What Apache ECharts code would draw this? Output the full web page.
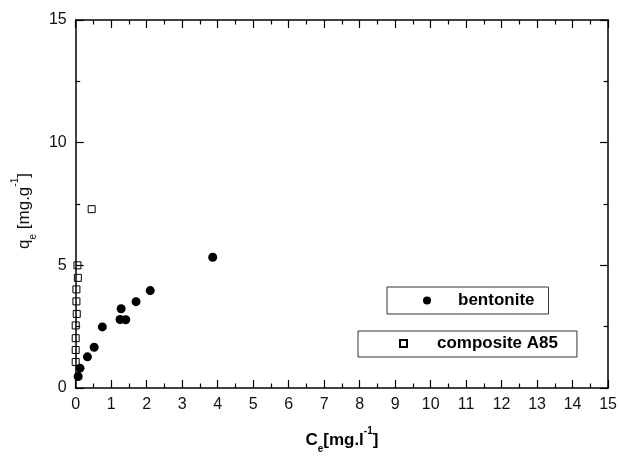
<!DOCTYPE html>
<html>
<head>
<meta charset="utf-8">
<script src="https://cdn.jsdelivr.net/npm/echarts@6/dist/echarts.min.js"></script>
<style>html,body{margin:0;padding:0;background:#fff}#c{width:620px;height:459px}</style>
</head>
<body>
<div id="c"></div>
<script>
// Data
var xTicks = [0,1,2,3,4,5,6,7,8,9,10,11,12,13,14,15];
var yTicks = [0,5,10,15];
var bentoniteCe = [0.07, 0.12, 0.33, 0.52, 0.75, 1.28, 1.25, 1.41, 1.70, 2.10, 3.86];
var bentoniteQe = [0.47, 0.81, 1.27, 1.66, 2.49, 3.23, 2.79, 2.78, 3.52, 3.97, 5.33];
var compositeCe = [0.00, 0.00, 0.00, 0.00, 0.03, 0.02, 0.02, 0.06, 0.05, 0.45];
var compositeQe = [1.06, 1.55, 2.03, 2.55, 3.02, 3.53, 4.02, 4.49, 5.00, 7.29];

function pairs(xs, ys){ return xs.map(function(x,i){ return [x, ys[i]]; }); }

var chart = echarts.init(document.getElementById('c'), null, {renderer:'canvas'});
var FONT = 'Liberation Sans, Arial, sans-serif';
var lineStyle = {color:'#000', width:1.5};
var tickCommon = {show:true, inside:true, length:8, lineStyle:{color:'#000', width:1.2}};
var minorCommon = {show:true, splitNumber:2, length:4.5, lineStyle:{color:'#000', width:1.2}};
var labelFont = {fontFamily:FONT, fontSize:16, color:'#111'};

chart.setOption({
  animation:false,
  backgroundColor:'#fff',
  grid:{left:75.7, right:11.7, top:20, bottom:68, containLabel:false},
  xAxis:[{
    type:'value', min:xTicks[0], max:xTicks[xTicks.length-1], interval:1,
    axisLine:{show:true, onZero:false, lineStyle:lineStyle},
    axisTick:tickCommon, minorTick:minorCommon,
    splitLine:{show:false},
    axisLabel:Object.assign({margin:9}, labelFont),
    name:'{b|C}{sub|e}{b|[mg.l}{sup|-1}{b|]}',
    nameLocation:'middle', nameGap:38,
    nameTextStyle:{
      rich:{
        b:{fontFamily:FONT, fontSize:17, fontWeight:'bold', color:'#000', lineHeight:28},
        sub:{fontFamily:FONT, fontSize:10, fontWeight:'bold', color:'#000', verticalAlign:'bottom', lineHeight:10},
        sup:{fontFamily:FONT, fontSize:10, fontWeight:'bold', color:'#000', verticalAlign:'top', lineHeight:10}
      }
    }
  },{
    type:'value', position:'top', min:xTicks[0], max:xTicks[xTicks.length-1], interval:1,
    axisLine:{show:true, onZero:false, lineStyle:lineStyle},
    axisTick:tickCommon, minorTick:minorCommon,
    splitLine:{show:false}, axisLabel:{show:false}
  }],
  yAxis:[{
    type:'value', min:yTicks[0], max:yTicks[yTicks.length-1], interval:5,
    axisLine:{show:true, onZero:false, lineStyle:lineStyle},
    axisTick:tickCommon, minorTick:minorCommon,
    splitLine:{show:false},
    axisLabel:Object.assign({margin:9}, labelFont),
    name:'{n|q}{sub|e}{n| [mg.g}{sup|-1}{n|]}',
    nameLocation:'middle', nameGap:34, nameRotate:90,
    nameTextStyle:{
      padding:[0,14,0,0],
      rich:{
        n:{fontFamily:FONT, fontSize:17, color:'#111', lineHeight:28},
        sub:{fontFamily:FONT, fontSize:10, color:'#111', verticalAlign:'bottom', lineHeight:10},
        sup:{fontFamily:FONT, fontSize:10, color:'#111', verticalAlign:'top', lineHeight:10}
      }
    }
  },{
    type:'value', position:'right', min:yTicks[0], max:yTicks[yTicks.length-1], interval:5,
    axisLine:{show:true, onZero:false, lineStyle:lineStyle},
    axisTick:tickCommon, minorTick:minorCommon,
    splitLine:{show:false}, axisLabel:{show:false}
  }],
  legend:[{
    data:['bentonite'], left:387, top:287, orient:'horizontal',
    icon:'circle', itemWidth:8, itemHeight:8,
    padding:[5,14,5,36], borderColor:'#333', borderWidth:1,
    textStyle:{fontFamily:FONT, fontSize:17, fontWeight:'bold', color:'#000', padding:[0,0,0,22]}
  },{
    data:['composite A85'], left:358, top:331, orient:'horizontal',
    icon:'rect', itemWidth:7, itemHeight:7,
    padding:[4,19,5,41], borderColor:'#333', borderWidth:1,
    textStyle:{fontFamily:FONT, fontSize:17, fontWeight:'bold', color:'#000', padding:[0,0,0,25]}
  }],
  series:[{
    name:'bentonite', type:'scatter', clip:false,
    symbol:'circle', symbolSize:9,
    itemStyle:{color:'#000', opacity:1},
    data:pairs(bentoniteCe, bentoniteQe)
  },{
    name:'composite A85', type:'scatter', clip:false,
    symbol:'rect', symbolSize:7,
    itemStyle:{color:'rgba(255,255,255,0)', borderColor:'#000', borderWidth:1, opacity:1},
    data:pairs(compositeCe, compositeQe)
  }]
});
</script>
</body>
</html>
